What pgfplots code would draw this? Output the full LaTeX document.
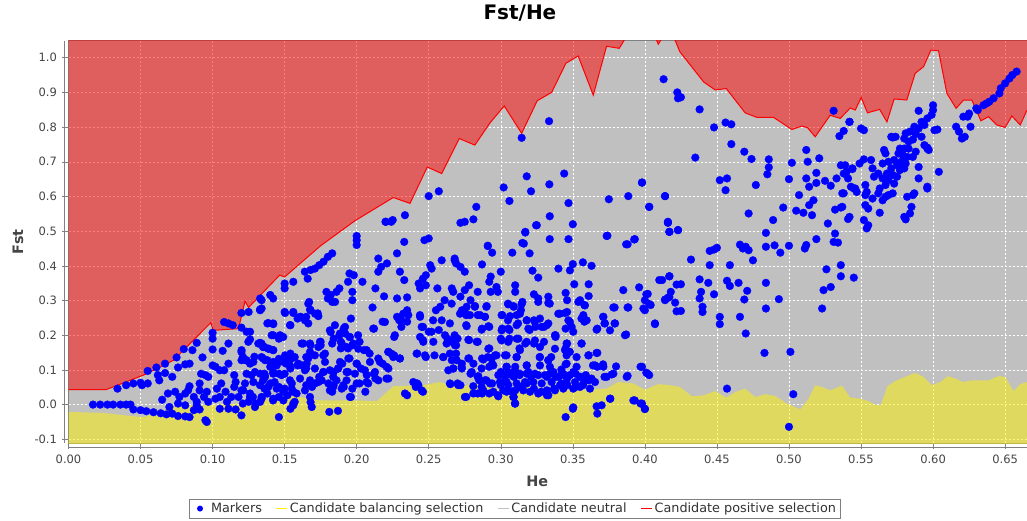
\documentclass[border=0pt]{standalone}
\usepackage{pgfplots}
\pgfplotsset{compat=1.18}
\usepackage{pgfplotstable}
\usepackage{fontspec}
\setmainfont{DejaVu Sans}

\definecolor{plotbg}{RGB}{192,192,192}
\definecolor{ticktext}{RGB}{68,68,68}
\definecolor{edge}{RGB}{128,128,128}

% upper boundary (positive selection)
\pgfplotstableread{
x y
0 0.043
0.026 0.043
0.052 0.085
0.073 0.128
0.082 0.166
0.0987 0.236
0.1005 0.214
0.118 0.219
0.1225 0.298
0.125 0.280
0.1465 0.373
0.150 0.368
0.175 0.458
0.1988 0.530
0.2254 0.597
0.237 0.580
0.249 0.685
0.259 0.666
0.2712 0.767
0.282 0.748
0.2925 0.812
0.3024 0.861
0.3145 0.782
0.3253 0.876
0.3353 0.900
0.3452 0.984
0.3537 1.005
0.3642 0.892
0.3734 1.033
0.3822 1.027
0.390 1.080
0.405 1.080
0.4093 1.039
0.414 1.070
0.419 1.070
0.4243 1.017
0.4408 0.930
0.4488 0.907
0.4565 0.911
0.4696 0.841
0.4777 0.828
0.4893 0.828
0.502 0.793
0.509 0.803
0.5129 0.798
0.5182 0.772
0.5286 0.834
0.5356 0.825
0.5425 0.855
0.546 0.849
0.5501 0.885
0.5545 0.841
0.5629 0.851
0.568 0.815
0.573 0.881
0.5818 0.878
0.5876 0.955
0.5934 0.974
0.5985 1.022
0.6038 1.020
0.6096 0.897
0.616 0.854
0.6212 0.878
0.6269 0.878
0.6332 0.818
0.6385 0.830
0.6443 0.806
0.650 0.799
0.6547 0.832
0.6605 0.806
0.6652 0.849
}\upperline

% same boundary closed over the top of the plot
\pgfplotstableread{
x y
0 1.3
0 0.043
0.026 0.043
0.052 0.085
0.073 0.128
0.082 0.166
0.0987 0.236
0.1005 0.214
0.118 0.219
0.1225 0.298
0.125 0.280
0.1465 0.373
0.150 0.368
0.175 0.458
0.1988 0.530
0.2254 0.597
0.237 0.580
0.249 0.685
0.259 0.666
0.2712 0.767
0.282 0.748
0.2925 0.812
0.3024 0.861
0.3145 0.782
0.3253 0.876
0.3353 0.900
0.3452 0.984
0.3537 1.005
0.3642 0.892
0.3734 1.033
0.3822 1.027
0.390 1.080
0.405 1.080
0.4093 1.039
0.414 1.070
0.419 1.070
0.4243 1.017
0.4408 0.930
0.4488 0.907
0.4565 0.911
0.4696 0.841
0.4777 0.828
0.4893 0.828
0.502 0.793
0.509 0.803
0.5129 0.798
0.5182 0.772
0.5286 0.834
0.5356 0.825
0.5425 0.855
0.546 0.849
0.5501 0.885
0.5545 0.841
0.5629 0.851
0.568 0.815
0.573 0.881
0.5818 0.878
0.5876 0.955
0.5934 0.974
0.5985 1.022
0.6038 1.020
0.6096 0.897
0.616 0.854
0.6212 0.878
0.6269 0.878
0.6332 0.818
0.6385 0.830
0.6443 0.806
0.650 0.799
0.6547 0.832
0.6605 0.806
0.6652 0.849
0.6652 1.3
}\upperarea

% lower boundary (balancing selection), closed under the plot
\pgfplotstableread{
x y
0 -0.3
0 -0.021
0.024 -0.024
0.046 -0.034
0.052 -0.036
0.068 -0.016
0.077 0.000
0.0935 -0.002
0.114 0.002
0.130 0.008
0.140 0.020
0.158 0.025
0.170 0.013
0.1815 0.012
0.200 0.012
0.2139 0.010
0.2254 0.053
0.2462 0.056
0.2578 0.065
0.2694 0.051
0.2832 0.061
0.3017 0.041
0.318 0.051
0.3388 0.041
0.3572 0.043
0.3734 0.046
0.3815 0.065
0.3919 0.061
0.400 0.043
0.4093 0.059
0.4174 0.056
0.4243 0.051
0.4327 0.024
0.4408 0.027
0.4488 0.039
0.4565 0.020
0.4627 0.036
0.4696 0.046
0.4766 0.022
0.4835 0.030
0.4904 0.025
0.4986 0.003
0.5078 -0.014
0.5136 0.017
0.5182 0.056
0.5229 0.051
0.5286 0.041
0.5367 0.055
0.5425 0.020
0.5494 0.017
0.5553 0.010
0.5605 -0.002
0.5638 0.000
0.5684 0.053
0.5737 0.068
0.5818 0.082
0.5876 0.091
0.5934 0.080
0.5992 0.056
0.605 0.065
0.6101 0.082
0.6154 0.075
0.6212 0.065
0.6269 0.070
0.6385 0.070
0.6455 0.082
0.650 0.080
0.6559 0.039
0.6605 0.059
0.6652 0.065
0.6652 -0.3
}\lowerarea

\pgfplotstableread{
x y
0.017 0.000
0.022 0.000
0.027 0.000
0.031 0.000
0.036 0.000
0.040 0.000
0.043 0.000
0.045 -0.014
0.050 -0.016
0.054 -0.019
0.059 -0.022
0.064 -0.025
0.068 -0.028
0.072 -0.026
0.076 -0.033
0.081 -0.034
0.084 -0.036
0.095 -0.045
0.096 -0.050
0.120 -0.031
0.034 0.046
0.040 0.056
0.045 0.061
0.050 0.063
0.051 0.056
0.055 0.061
0.055 0.097
0.061 0.107
0.062 0.085
0.067 0.118
0.067 0.091
0.063 0.070
0.072 0.080
0.075 0.136
0.076 0.107
0.081 0.116
0.080 0.160
0.086 0.157
0.089 0.178
0.084 0.118
0.093 0.136
0.100 0.207
0.100 0.190
0.100 0.159
0.107 0.155
0.111 0.176
0.108 0.238
0.111 0.234
0.114 0.229
0.120 0.222
0.120 0.264
0.125 0.267
0.133 0.306
0.133 0.272
0.126 0.210
0.126 0.188
0.133 0.178
0.136 0.166
0.111 0.118
0.100 0.113
0.102 0.109
0.105 0.099
0.108 0.099
0.092 0.089
0.095 0.085
0.097 0.080
0.115 0.085
0.120 0.152
0.121 0.138
0.123 0.128
0.126 0.118
0.129 0.138
0.127 0.085
0.133 0.089
0.136 0.085
0.135 0.133
0.069 0.032
0.065 0.014
0.074 0.037
0.077 0.022
0.081 0.032
0.083 0.041
0.084 0.053
0.087 0.022
0.089 0.008
0.091 0.061
0.091 0.041
0.094 0.022
0.096 0.037
0.097 0.008
0.102 0.017
0.103 0.046
0.105 0.022
0.106 0.061
0.109 0.037
0.110 0.008
0.111 -0.012
0.113 0.022
0.115 0.051
0.116 0.065
0.118 0.022
0.120 0.041
0.121 0.003
0.125 0.008
0.126 0.032
0.128 0.022
0.130 0.003
0.134 0.022
0.133 0.008
0.136 0.046
0.091 -0.014
0.087 -0.016
0.089 -0.002
0.081 -0.002
0.076 0.003
0.070 -0.007
0.105 -0.012
0.116 -0.014
0.200 0.474
0.200 0.460
0.200 0.486
0.220 0.527
0.224 0.527
0.233 0.469
0.247 0.474
0.250 0.479
0.183 0.436
0.180 0.426
0.177 0.412
0.174 0.402
0.171 0.392
0.164 0.383
0.168 0.388
0.166 0.363
0.215 0.421
0.217 0.397
0.221 0.407
0.215 0.383
0.228 0.436
0.230 0.383
0.233 0.359
0.259 0.416
0.268 0.416
0.269 0.407
0.251 0.402
0.252 0.392
0.248 0.373
0.246 0.363
0.243 0.349
0.248 0.344
0.244 0.335
0.256 0.335
0.266 0.335
0.267 0.325
0.195 0.378
0.198 0.373
0.204 0.354
0.194 0.354
0.213 0.335
0.197 0.325
0.197 0.301
0.188 0.335
0.186 0.325
0.179 0.325
0.182 0.316
0.180 0.306
0.183 0.296
0.185 0.296
0.156 0.354
0.150 0.349
0.150 0.335
0.140 0.316
0.142 0.306
0.134 0.301
0.134 0.277
0.167 0.296
0.173 0.263
0.168 0.272
0.165 0.253
0.161 0.253
0.159 0.248
0.156 0.267
0.150 0.267
0.154 0.229
0.142 0.234
0.138 0.234
0.141 0.200
0.146 0.190
0.149 0.195
0.134 0.176
0.135 0.166
0.139 0.161
0.142 0.157
0.138 0.128
0.134 0.137
0.140 0.109
0.143 0.118
0.145 0.123
0.146 0.132
0.149 0.128
0.151 0.118
0.152 0.137
0.154 0.147
0.157 0.137
0.159 0.113
0.154 0.104
0.150 0.089
0.146 0.089
0.142 0.094
0.136 0.089
0.135 0.070
0.140 0.061
0.143 0.065
0.146 0.051
0.150 0.046
0.155 0.061
0.156 0.037
0.152 0.027
0.146 0.022
0.142 0.012
0.138 0.032
0.134 0.017
0.157 0.008
0.156 -0.002
0.154 -0.012
0.146 -0.036
0.168 0.007
0.165 0.056
0.169 0.051
0.171 0.061
0.174 0.080
0.177 0.094
0.175 0.070
0.171 0.142
0.165 0.137
0.163 0.176
0.168 0.171
0.175 0.171
0.175 0.181
0.162 0.113
0.165 0.104
0.171 0.104
0.178 0.147
0.182 0.209
0.184 0.190
0.183 0.176
0.188 0.200
0.189 0.181
0.191 0.219
0.192 0.205
0.195 0.195
0.196 0.248
0.197 0.171
0.194 0.162
0.189 0.162
0.201 0.200
0.202 0.181
0.205 0.157
0.209 0.147
0.195 0.133
0.190 0.118
0.187 0.104
0.184 0.094
0.194 0.094
0.193 0.070
0.186 0.070
0.184 0.056
0.191 0.051
0.183 0.037
0.196 0.022
0.197 0.046
0.202 0.061
0.200 0.118
0.203 0.104
0.207 0.085
0.212 0.089
0.213 0.075
0.208 0.061
0.206 0.037
0.215 0.133
0.218 0.118
0.222 0.104
0.222 0.075
0.222 0.152
0.224 0.147
0.226 0.142
0.230 0.133
0.226 0.195
0.218 0.239
0.212 0.219
0.211 0.280
0.219 0.312
0.228 0.306
0.235 0.309
0.228 0.253
0.231 0.243
0.231 0.224
0.235 0.272
0.235 0.239
0.244 0.253
0.246 0.224
0.244 0.195
0.246 0.186
0.250 0.210
0.253 0.243
0.255 0.272
0.258 0.282
0.261 0.301
0.257 0.215
0.263 0.190
0.266 0.181
0.270 0.190
0.242 0.147
0.248 0.137
0.254 0.142
0.260 0.137
0.266 0.128
0.269 0.147
0.267 0.104
0.242 0.061
0.241 0.051
0.246 0.037
0.235 0.027
0.265 0.059
0.270 0.061
0.181 -0.021
0.187 -0.018
0.325 0.517
0.350 0.520
0.317 0.496
0.334 0.477
0.347 0.477
0.374 0.487
0.388 0.462
0.393 0.477
0.416 0.527
0.417 0.498
0.291 0.458
0.294 0.438
0.308 0.438
0.316 0.464
0.320 0.436
0.287 0.404
0.268 0.421
0.272 0.397
0.275 0.383
0.300 0.383
0.293 0.369
0.292 0.354
0.293 0.325
0.297 0.339
0.298 0.325
0.310 0.344
0.310 0.325
0.322 0.386
0.326 0.366
0.340 0.392
0.348 0.387
0.350 0.405
0.357 0.410
0.363 0.400
0.351 0.347
0.361 0.347
0.385 0.330
0.396 0.338
0.401 0.318
0.400 0.301
0.399 0.277
0.404 0.287
0.410 0.359
0.417 0.370
0.414 0.301
0.417 0.310
0.407 0.234
0.379 0.280
0.388 0.280
0.371 0.253
0.372 0.234
0.379 0.234
0.367 0.219
0.387 0.202
0.278 0.344
0.275 0.330
0.272 0.311
0.279 0.301
0.284 0.325
0.273 0.272
0.276 0.258
0.282 0.282
0.284 0.258
0.289 0.253
0.290 0.282
0.287 0.219
0.276 0.229
0.292 0.224
0.301 0.258
0.305 0.291
0.309 0.282
0.314 0.272
0.315 0.296
0.305 0.243
0.311 0.258
0.312 0.234
0.318 0.243
0.323 0.243
0.323 0.318
0.326 0.306
0.333 0.311
0.334 0.291
0.345 0.322
0.346 0.301
0.355 0.301
0.358 0.287
0.361 0.313
0.341 0.262
0.346 0.267
0.348 0.238
0.345 0.219
0.356 0.248
0.358 0.239
0.332 0.229
0.330 0.224
0.338 0.200
0.324 0.224
0.320 0.215
0.306 0.215
0.301 0.219
0.300 0.190
0.306 0.190
0.311 0.190
0.317 0.176
0.323 0.176
0.330 0.181
0.338 0.195
0.346 0.176
0.345 0.162
0.348 0.152
0.356 0.176
0.361 0.142
0.367 0.149
0.268 0.200
0.269 0.171
0.278 0.186
0.284 0.181
0.292 0.162
0.291 0.137
0.297 0.142
0.304 0.142
0.311 0.137
0.313 0.162
0.327 0.137
0.335 0.137
0.333 0.128
0.318 0.113
0.310 0.109
0.304 0.109
0.300 0.094
0.305 0.094
0.294 0.118
0.292 0.109
0.287 0.133
0.281 0.118
0.278 0.133
0.273 0.118
0.273 0.104
0.279 0.089
0.284 0.080
0.285 0.070
0.290 0.070
0.294 0.061
0.300 0.056
0.304 0.065
0.309 0.080
0.313 0.085
0.318 0.089
0.321 0.080
0.326 0.085
0.332 0.080
0.334 0.089
0.338 0.080
0.342 0.085
0.346 0.075
0.348 0.085
0.352 0.089
0.355 0.080
0.359 0.085
0.361 0.070
0.363 0.075
0.357 0.056
0.352 0.051
0.346 0.056
0.342 0.061
0.337 0.046
0.332 0.041
0.328 0.037
0.323 0.046
0.318 0.061
0.314 0.051
0.310 0.041
0.304 0.037
0.298 0.027
0.292 0.032
0.287 0.032
0.284 0.032
0.276 0.022
0.272 0.056
0.309 0.022
0.310 0.003
0.332 0.027
0.342 0.101
0.345 0.116
0.364 0.113
0.367 0.109
0.371 0.116
0.380 0.110
0.377 0.087
0.372 0.080
0.388 0.083
0.397 0.109
0.402 0.089
0.350 -0.012
0.345 -0.036
0.367 -0.026
0.370 -0.002
0.376 0.017
0.393 0.012
0.397 0.003
0.400 -0.012
0.2203 0.527
0.225 0.532
0.2335 0.546
0.250 0.601
0.257 0.615
0.272 0.524
0.275 0.527
0.281 0.534
0.283 0.570
0.291 0.457
0.302 0.626
0.306 0.587
0.3145 0.769
0.317 0.498
0.318 0.658
0.321 0.615
0.3245 0.517
0.315 0.466
0.3335 0.817
0.3337 0.635
0.334 0.543
0.344 0.666
0.347 0.581
0.3735 0.486
0.375 0.592
0.3885 0.601
0.398 0.640
0.403 0.570
0.414 0.601
0.387 0.462
0.3926 0.476
0.416 0.524
0.423 0.503
0.413 0.938
0.4225 0.900
0.423 0.883
0.425 0.886
0.438 0.851
0.448 0.799
0.456 0.813
0.460 0.808
0.460 0.751
0.435 0.712
0.469 0.729
0.474 0.708
0.486 0.707
0.486 0.684
0.485 0.664
0.452 0.647
0.457 0.652
0.456 0.618
0.477 0.633
0.502 0.697
0.500 0.650
0.512 0.734
0.513 0.700
0.521 0.710
0.512 0.652
0.514 0.628
0.519 0.668
0.519 0.639
0.525 0.645
0.529 0.631
0.533 0.652
0.531 0.847
0.542 0.815
0.538 0.789
0.535 0.774
0.536 0.690
0.540 0.671
0.544 0.679
0.545 0.623
0.538 0.609
0.507 0.604
0.517 0.589
0.514 0.575
0.510 0.553
0.505 0.559
0.516 0.546
0.532 0.562
0.536 0.568
0.541 0.535
0.527 0.522
0.532 0.493
0.531 0.469
0.534 0.467
0.519 0.477
0.512 0.460
0.511 0.450
0.496 0.568
0.489 0.532
0.472 0.551
0.484 0.495
0.484 0.455
0.490 0.459
0.494 0.438
0.500 0.458
0.475 0.416
0.466 0.461
0.470 0.455
0.468 0.450
0.472 0.445
0.445 0.443
0.448 0.447
0.450 0.452
0.445 0.402
0.459 0.402
0.432 0.418
0.414 0.601
0.403 0.570
0.398 0.640
0.416 0.525
0.417 0.498
0.423 0.503
0.417 0.370
0.412 0.359
0.422 0.346
0.425 0.347
0.418 0.325
0.414 0.303
0.416 0.308
0.421 0.294
0.422 0.269
0.425 0.270
0.402 0.319
0.403 0.290
0.400 0.272
0.407 0.232
0.438 0.361
0.439 0.325
0.438 0.306
0.440 0.282
0.440 0.267
0.444 0.351
0.448 0.318
0.452 0.253
0.452 0.232
0.457 0.357
0.459 0.342
0.465 0.351
0.471 0.328
0.469 0.303
0.466 0.253
0.470 0.205
0.484 0.351
0.493 0.304
0.484 0.277
0.483 0.149
0.501 0.152
0.524 0.330
0.529 0.339
0.523 0.277
0.526 0.390
0.536 0.402
0.536 0.370
0.545 0.366
0.457 0.046
0.503 0.030
0.500 -0.064
0.398 0.109
0.401 0.092
0.403 0.085
0.398 0.003
0.400 -0.013
0.658 0.960
0.655 0.950
0.653 0.940
0.650 0.926
0.647 0.912
0.646 0.897
0.642 0.883
0.639 0.873
0.637 0.868
0.635 0.863
0.631 0.849
0.630 0.854
0.625 0.839
0.624 0.830
0.621 0.830
0.626 0.801
0.616 0.801
0.618 0.787
0.620 0.767
0.622 0.772
0.600 0.863
0.600 0.849
0.590 0.847
0.599 0.835
0.596 0.825
0.592 0.815
0.594 0.806
0.587 0.801
0.590 0.796
0.603 0.793
0.601 0.791
0.584 0.787
0.581 0.782
0.588 0.780
0.592 0.772
0.586 0.764
0.583 0.758
0.580 0.767
0.572 0.770
0.574 0.772
0.577 0.738
0.580 0.738
0.583 0.738
0.594 0.748
0.596 0.738
0.576 0.724
0.579 0.719
0.582 0.714
0.586 0.714
0.588 0.729
0.566 0.734
0.567 0.724
0.573 0.705
0.578 0.700
0.581 0.695
0.575 0.690
0.571 0.681
0.577 0.676
0.580 0.681
0.568 0.666
0.572 0.662
0.575 0.657
0.565 0.695
0.569 0.700
0.565 0.652
0.569 0.647
0.573 0.637
0.562 0.666
0.567 0.633
0.563 0.623
0.559 0.657
0.558 0.681
0.557 0.705
0.552 0.707
0.549 0.695
0.544 0.681
0.539 0.690
0.538 0.666
0.541 0.652
0.543 0.628
0.546 0.623
0.547 0.613
0.553 0.633
0.554 0.613
0.558 0.594
0.562 0.609
0.565 0.589
0.567 0.599
0.569 0.604
0.572 0.609
0.553 0.604
0.553 0.575
0.555 0.565
0.537 0.609
0.537 0.570
0.542 0.541
0.552 0.532
0.555 0.517
0.554 0.508
0.563 0.553
0.580 0.541
0.581 0.534
0.584 0.551
0.585 0.570
0.582 0.599
0.587 0.609
0.590 0.685
0.590 0.652
0.596 0.623
0.604 0.671
0.596 0.741
0.597 0.734
0.542 0.815
0.550 0.796
0.552 0.791
0.571 0.772
0.596 0.628
0.586 0.604
0.2659 0.291
0.2763 0.282
0.2821 0.284
0.2902 0.284
0.3052 0.289
0.3087 0.284
0.3144 0.289
0.3260 0.296
0.3330 0.293
0.3538 0.296
0.3584 0.286
0.3781 0.280
0.3885 0.280
0.2717 0.262
0.2751 0.267
0.2786 0.258
0.2856 0.258
0.2890 0.253
0.3006 0.258
0.3064 0.255
0.3133 0.262
0.3180 0.243
0.3237 0.238
0.3272 0.248
0.3330 0.234
0.3399 0.262
0.3446 0.264
0.3469 0.243
0.3573 0.258
0.3596 0.243
0.3712 0.253
0.3723 0.234
0.3793 0.234
0.2590 0.243
0.2647 0.234
0.2763 0.226
0.2867 0.216
0.2914 0.226
0.3006 0.214
0.3052 0.219
0.3110 0.229
0.3191 0.219
0.3284 0.224
0.3492 0.224
0.3503 0.210
0.3665 0.216
0.3758 0.214
0.2613 0.200
0.2682 0.195
0.2775 0.187
0.2833 0.181
0.3006 0.185
0.3052 0.181
0.3122 0.190
0.3180 0.181
0.3237 0.185
0.3376 0.200
0.3457 0.176
0.3561 0.176
0.3862 0.200
0.2624 0.176
0.2682 0.171
0.2914 0.161
0.3029 0.142
0.3133 0.157
0.3272 0.166
0.3376 0.161
0.3446 0.157
0.3608 0.142
0.3665 0.149
0.2601 0.137
0.2647 0.147
0.2694 0.128
0.2775 0.133
0.2879 0.130
0.2937 0.133
0.2960 0.142
0.3110 0.137
0.3272 0.137
0.3330 0.128
0.3457 0.142
0.3526 0.137
0.2636 0.099
0.2670 0.104
0.2728 0.109
0.2798 0.094
0.2867 0.104
0.2948 0.113
0.3041 0.109
0.3098 0.099
0.3180 0.113
0.3272 0.113
0.3341 0.109
0.3457 0.118
0.3526 0.109
0.3654 0.113
0.3712 0.109
0.3781 0.089
0.3874 0.080
0.2844 0.082
0.2890 0.070
0.2983 0.085
0.3029 0.080
0.3075 0.085
0.3133 0.089
0.3191 0.094
0.3237 0.089
0.3307 0.085
0.3365 0.094
0.3399 0.080
0.3434 0.089
0.3503 0.094
0.3550 0.080
0.3596 0.075
0.3654 0.065
0.3735 0.080
0.2647 0.061
0.2705 0.056
0.2809 0.053
0.2867 0.051
0.2925 0.061
0.2994 0.065
0.3052 0.056
0.3110 0.061
0.3168 0.065
0.3226 0.065
0.3284 0.061
0.3353 0.065
0.3411 0.056
0.3457 0.061
0.3515 0.065
0.3573 0.061
0.3619 0.046
0.2751 0.022
0.2809 0.032
0.2879 0.041
0.2948 0.037
0.3017 0.041
0.3075 0.037
0.3156 0.041
0.3203 0.037
0.3260 0.032
0.3318 0.037
0.3376 0.041
0.3434 0.046
0.3503 0.046
0.3550 0.051
0.2983 0.024
0.3087 0.022
0.3098 0.003
0.3330 0.027
0.3503 -0.008
0.3665 -0.005
0.3758 0.017
0.3920 0.012
0.1329 0.274
0.1503 0.264
0.1560 0.264
0.1607 0.253
0.1641 0.243
0.1664 0.234
0.1676 0.274
0.1711 0.262
0.1734 0.255
0.1664 0.291
0.1387 0.235
0.1421 0.232
0.1537 0.229
0.1236 0.210
0.1248 0.181
0.1317 0.176
0.1352 0.166
0.1387 0.161
0.1421 0.157
0.1421 0.200
0.1468 0.200
0.1201 0.157
0.1201 0.128
0.1236 0.128
0.1283 0.123
0.1364 0.128
0.1421 0.123
0.1503 0.142
0.1491 0.123
0.1549 0.133
0.1537 0.113
0.1595 0.118
0.1445 0.113
0.1618 0.176
0.1676 0.176
0.1745 0.181
0.1734 0.166
0.1676 0.152
0.1664 0.133
0.1653 0.118
0.1641 0.099
0.1768 0.142
0.1236 0.089
0.1294 0.094
0.1364 0.080
0.1421 0.089
0.1479 0.085
0.1537 0.070
0.1607 0.075
0.1676 0.070
0.1734 0.065
0.1225 0.061
0.1283 0.065
0.1329 0.056
0.1387 0.051
0.1445 0.046
0.1491 0.037
0.1549 0.046
0.1583 0.032
0.1641 0.041
0.1676 0.022
0.1688 -0.007
0.1560 0.003
0.1491 0.012
0.1421 0.017
0.1259 0.022
0.1213 0.041
0.1294 -0.007
0.1814 0.214
0.1849 0.229
0.1884 0.205
0.1919 0.224
0.1953 0.195
0.1896 0.176
0.1976 0.176
0.1930 0.166
0.2011 0.161
0.2069 0.157
0.2115 0.219
0.2265 0.200
0.2196 0.238
0.2462 0.181
0.2416 0.147
0.2474 0.142
0.2532 0.181
0.2520 0.210
0.2358 0.258
0.2439 0.258
0.2323 0.262
0.2295 0.243
0.2451 0.224
0.1780 0.123
0.1814 0.099
0.1768 0.094
0.1837 0.080
0.1884 0.123
0.1872 0.104
0.1942 0.133
0.2000 0.118
0.1930 0.094
0.1988 0.089
0.2057 0.099
0.2092 0.123
0.2127 0.094
0.2161 0.123
0.2219 0.152
0.2254 0.137
0.2300 0.133
0.2207 0.109
0.2150 0.070
0.2069 0.065
0.2000 0.061
0.1907 0.056
0.1837 0.051
0.1803 0.061
0.1896 0.046
0.1953 0.022
0.2207 0.075
0.2393 0.065
0.2428 0.056
0.2451 0.041
0.2335 0.032
0.1814 0.041
0.1757 0.070
}\markers

\begin{document}
\begin{tikzpicture}
\useasboundingbox (0,0) rectangle (1027pt,520pt);
\begin{axis}[
  name=ax,
  at={(68.5pt,77pt)}, anchor=south west,
  scale only axis, width=958.5pt, height=402.3pt,
  xmin=0, xmax=0.6652, ymin=-0.1107, ymax=1.049,
  xtick={0,0.05,0.1,0.15,0.2,0.25,0.3,0.35,0.4,0.45,0.5,0.55,0.6,0.65},
  ytick={-0.1,0,0.1,0.2,0.3,0.4,0.5,0.6,0.7,0.8,0.9,1.0},
  scaled ticks=false,
  tick pos=left,
  /pgf/number format/assume math mode=true,
  xticklabel style={yshift=-2pt, /pgf/number format/fixed, /pgf/number format/fixed zerofill, /pgf/number format/precision=2},
  yticklabel style={xshift=-2pt, /pgf/number format/fixed, /pgf/number format/fixed zerofill, /pgf/number format/precision=1},
  ticklabel style={font=\fontsize{11.5}{13}\selectfont, text=ticktext},
  grid=major,
  major grid style={draw=white, line width=0.5pt, dash pattern=on 2pt off 2pt},
  axis background/.style={fill=plotbg},
  axis line style={draw=edge, line width=0.5pt},
  tick align=outside, major tick length=6pt,
  every tick/.style={draw=edge, line width=0.5pt},
  title={Fst/He},
  title style={at={(0.471,1.054)}, anchor=center, font=\fontsize{20}{24}\selectfont\bfseries},
  xlabel={He}, ylabel={Fst},
  label style={font=\fontsize{14.4}{17}\selectfont\bfseries, text=ticktext},
  xlabel style={at={(0.489,-0.0945)}, anchor=center},
  ylabel style={at={(-0.0527,0.5)}, anchor=center},
  legend image code/.code={\draw[mark repeat=2, mark phase=2, #1] plot coordinates {(0pt,0pt) (5.5pt,0pt) (11pt,0pt)};},
  legend columns=-1,
  legend style={at={(0.4653,-0.163)}, anchor=center, draw=edge, fill=white,
    font=\fontsize{12.8}{15}\selectfont, text=black!80, inner sep=2pt,
    /tikz/every even column/.append style={column sep=12pt}},
]
\addlegendimage{legend image code/.code={\path[draw=none, fill=none] (0pt,-3pt) rectangle (18pt,3pt); \path[draw=none, fill=blue] (9pt,0pt) circle (3pt);}}
\addlegendentry{Markers}
\addlegendimage{yellow, line width=1pt}
\addlegendentry{Candidate balancing selection}
\addlegendimage{plotbg, line width=1pt}
\addlegendentry{Candidate neutral}
\addlegendimage{red, line width=1pt}
\addlegendentry{Candidate positive selection}

\addplot[fill=red, fill opacity=0.5, draw=none, forget plot] table {\upperarea};
\addplot[fill=yellow, fill opacity=0.5, draw=none, forget plot] table {\lowerarea};
\addplot[red, line width=1pt, forget plot] table {\upperline};
\addplot[only marks, mark=*, mark size=3.9pt, mark options={fill=blue, draw=blue, line width=0.3pt}, forget plot] table {\markers};
\end{axis}
\draw[edge, line width=0.5pt] ([xshift=-4pt]ax.south west) -- ([xshift=-4pt]ax.north west);
\draw[edge, line width=0.5pt] ([yshift=-4pt]ax.south west) -- ([yshift=-4pt]ax.south east);
\end{tikzpicture}
\end{document}
